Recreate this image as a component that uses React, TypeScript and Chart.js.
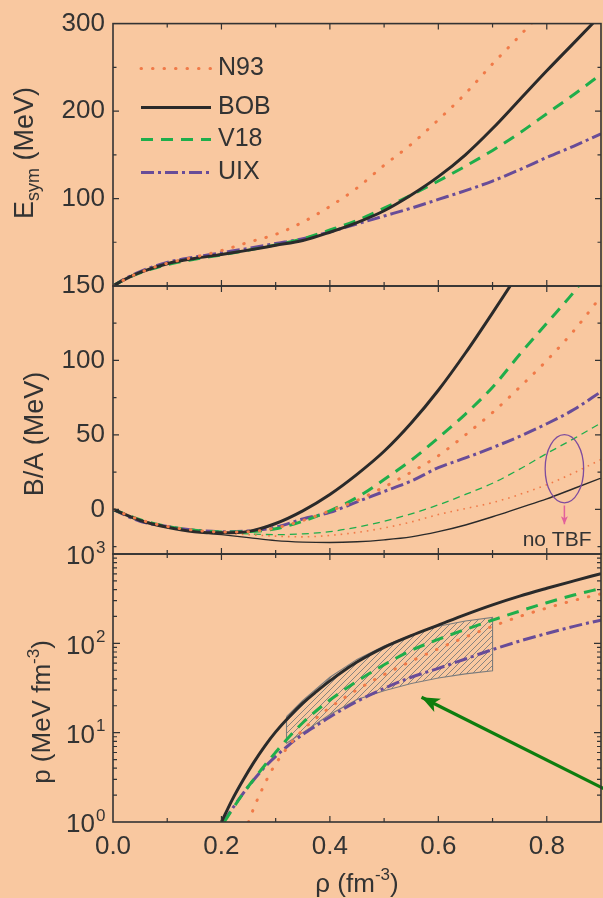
import React, { useEffect, useRef } from 'react';
import { Chart, registerables } from 'chart.js';

Chart.register(...registerables);

const W = 603;
const H = 898;
const BG = '#F9C8A0';
const INK = '#333333';
const FONT = '"Liberation Sans", Arial, Helvetica, sans-serif';

const COL_N93 = '#F07A48';
const COL_BOB = '#2A2A2A';
const COL_V18 = '#1FAE4B';
const COL_UIX = '#684C98';
const COL_HATCH = '#7C7C7C';
const COL_ARROW = '#0E7D0E';
const COL_ELLIPSE = '#7E4C9E';
const COL_PINK = '#E2619B';

const LEFT = 113;
const RIGHT = 601;
const TOPS = [18, 286, 554];
const BOTTOMS = [286, 554, 822];

// ---------- shared axis ----------
const rhoMin = 0;
const rhoMax = 0.9;
const rhoMajorTicks = [0.2, 0.4, 0.6, 0.8];
const rhoMinorTicks = [0.1, 0.3, 0.5, 0.7];

// ---------- panel 1: symmetry energy (MeV) ----------
const esymRho = [0, 0.02, 0.05, 0.1, 0.15, 0.2, 0.25, 0.3, 0.35, 0.4, 0.45, 0.5, 0.55, 0.6, 0.65, 0.7, 0.75, 0.8, 0.85, 0.9];
const esymN93 = [0, 7, 15.5, 26, 33, 40.5, 50, 59, 73, 91, 112, 138, 162, 190, 220, 254, 286, 320];
const esymBOB = [0, 7, 15.5, 25.5, 31.5, 36, 41, 46.5, 52, 61.5, 72.5, 86, 104, 125, 150, 180, 213, 246, 278, 310];
const esymV18 = [0, 7, 15, 24.5, 30.5, 35.5, 41, 47, 54, 64, 75, 89, 104, 120, 137, 155, 175, 197, 219, 242];
const esymUIX = [0, 7.5, 16.5, 27, 33, 38, 43, 48.5, 54, 62, 71, 80, 89, 99, 109, 120, 133, 147, 160, 174];
const esymMajor = [100, 200];
const esymMinor = [50, 150, 250];

// ---------- panel 2: binding energy per nucleon (MeV) ----------
const baRho = [0, 0.05, 0.1, 0.15, 0.2, 0.25, 0.3, 0.35, 0.4, 0.45, 0.5, 0.55, 0.6, 0.65, 0.7, 0.75, 0.8, 0.85, 0.9];
const baN93 = [0, -7, -11.5, -14, -15.2, -15, -12.5, -7.5, -1, 6, 15, 25, 36, 50, 65, 82, 100, 120, 143];
const baBOB = [0, -7.5, -12, -15, -15.8, -14.8, -9.5, -1, 10, 23.5, 39, 58, 80, 105, 132, 160, 190];
const baV18 = [0, -7, -11.5, -14, -15.2, -15, -13, -8, -1, 8, 20, 33, 48, 64, 82, 104, 125, 146, 170];
const baUIX = [0, -8, -11.5, -14, -15, -14.5, -12, -6.5, -2, 5, 12, 19, 28, 34.5, 41.5, 49, 57.5, 67, 79];
// without three-body forces
const baN93noTBF = [0, -7, -11.5, -14, -15.8, -17, -18, -18.5, -17.5, -15.5, -12.5, -8.5, -3.5, 0.5, 4.5, 10, 16.5, 24.5, 33.5];
const baBOBnoTBF = [0, -7.5, -12, -15, -17, -19, -21, -22, -22.3, -21.8, -20.5, -18.5, -15, -10.5, -5, 1, 7, 14, 21];
const baV18noTBF = [0, -7, -11.5, -14, -15.5, -16.5, -17, -16.5, -15, -12, -8, -3, 3, 10, 17.5, 27, 37.5, 47.5, 58];
const baMajor = [0, 50, 100];
const baMinor = [-25, 25, 75, 125];
// annotation (data coordinates)
const noTbfEllipse = { rho: 0.8325, ba: 27.3, rRho: 0.0355, rBa: 22.9 };
const noTbfArrowRho = [0.8325, 0.8325];
const noTbfArrowBa = [2.5, -10];
const noTbfLabel = { text: 'no TBF', rho: 0.819, ba: -24.6 };

// ---------- panel 3: pressure (MeV fm^-3) ----------
const pRhoN93 = [0.25, 0.26, 0.27, 0.28, 0.29, 0.3, 0.325, 0.35, 0.375, 0.4, 0.45, 0.5, 0.55, 0.6, 0.65, 0.7, 0.75, 0.8, 0.85, 0.9];
const pN93 = [1.0, 1.45, 2.0, 2.69, 3.55, 4.47, 7.24, 10.7, 14.6, 19.1, 30.2, 44.7, 63.1, 87.1, 117.5, 155, 200, 248, 302, 359];
const pRhoBOB = [0.2, 0.22, 0.24, 0.26, 0.28, 0.3, 0.325, 0.35, 0.375, 0.4, 0.45, 0.5, 0.55, 0.6, 0.65, 0.7, 0.75, 0.8, 0.85, 0.9];
const pBOB = [1.0, 1.78, 2.95, 4.68, 7.08, 10.2, 15.1, 21.4, 28.8, 38, 61.7, 90.2, 122, 160, 210, 270, 338, 413, 500, 603];
const pRhoV18 = [0.205, 0.22, 0.24, 0.26, 0.28, 0.3, 0.325, 0.35, 0.375, 0.4, 0.45, 0.5, 0.55, 0.6, 0.65, 0.7, 0.75, 0.8, 0.85, 0.9];
const pV18 = [1.0, 1.38, 2.09, 3.02, 4.32, 6.03, 9.02, 12.9, 17.6, 23.2, 37.6, 57.5, 83.2, 111, 143, 182, 229, 285, 347, 412];
const pRhoUIX = [0.203, 0.22, 0.24, 0.26, 0.28, 0.3, 0.325, 0.35, 0.375, 0.4, 0.45, 0.5, 0.55, 0.6, 0.65, 0.7, 0.75, 0.8, 0.85, 0.9];
const pUIX = [1.0, 1.41, 2.09, 2.99, 4.12, 5.43, 7.33, 9.55, 12.0, 15.0, 22.4, 31.3, 41.7, 52.5, 66.8, 85.1, 106, 129, 155, 182];
// constraint band from heavy-ion flow
const bandRho = [0.32, 0.35, 0.4, 0.45, 0.5, 0.55, 0.6, 0.65, 0.7];
const bandUpper = [15.1, 22.9, 41.7, 66.1, 93.3, 124, 155, 178, 195];
const bandLower = [7.6, 10, 16, 23.5, 29.5, 35.5, 41, 45.5, 49.4];
const greenArrowRho = [0.905, 0.569];
const greenArrowP = [2.36, 24.9];
const pDecades = [1, 10, 100, 1000];
const pMajor = [10, 100];
const pMinor = [2, 3, 4, 5, 6, 7, 8, 9, 20, 30, 40, 50, 60, 70, 80, 90, 200, 300, 400, 500, 600, 700, 800, 900];

// ---------- styles ----------
const thick: Record<string, any> = {
  N93: { borderColor: COL_N93, borderWidth: 3, borderDash: [0.5, 11], borderCapStyle: 'round' },
  BOB: { borderColor: COL_BOB, borderWidth: 3, borderDash: [] },
  V18: { borderColor: COL_V18, borderWidth: 3, borderDash: [12, 8] },
  UIX: { borderColor: COL_UIX, borderWidth: 3, borderDash: [13, 4, 3, 4] },
};
const thin: Record<string, any> = {
  N93: { borderColor: COL_N93, borderWidth: 1.6, borderDash: [1.6, 5] },
  BOB: { borderColor: COL_BOB, borderWidth: 1.4, borderDash: [] },
  V18: { borderColor: COL_V18, borderWidth: 1.3, borderDash: [7, 5] },
};

const pts = (xs: number[], ys: number[]) => ys.map((y, i) => ({ x: xs[i], y }));

const line = (xs: number[], ys: number[], style: any, extra: any = {}) => ({
  type: 'line',
  data: pts(xs, ys),
  pointRadius: 0,
  pointHoverRadius: 0,
  fill: false,
  cubicInterpolationMode: 'monotone',
  ...style,
  ...extra,
});

// ---------- drawing helpers ----------
function drawFrame(chart: any, yMajor: number[], yMinor: number[], majLen = 6, minLen = 3.5) {
  const { ctx, chartArea: a, scales } = chart;
  const xs = scales.x;
  const ys = scales.y;
  ctx.save();
  ctx.strokeStyle = INK;
  ctx.lineWidth = 1.2;
  ctx.setLineDash([]);
  ctx.beginPath();
  const xt = (v: number, len: number) => {
    const px = xs.getPixelForValue(v);
    ctx.moveTo(px, a.bottom); ctx.lineTo(px, a.bottom - len);
    ctx.moveTo(px, a.top); ctx.lineTo(px, a.top + len);
  };
  const yt = (v: number, len: number) => {
    const py = ys.getPixelForValue(v);
    ctx.moveTo(a.left, py); ctx.lineTo(a.left + len, py);
    ctx.moveTo(a.right, py); ctx.lineTo(a.right - len, py);
  };
  rhoMajorTicks.forEach((v) => xt(v, 6));
  rhoMinorTicks.forEach((v) => xt(v, 4));
  yMajor.forEach((v) => yt(v, majLen));
  yMinor.forEach((v) => yt(v, minLen));
  ctx.stroke();
  ctx.lineWidth = 1.6;
  ctx.strokeRect(a.left, a.top, a.right - a.left, a.bottom - a.top);
  ctx.restore();
}

type Part = { t: string; size: number; dy: number };
function drawRich(ctx: CanvasRenderingContext2D, parts: Part[], cx: number, baseY: number) {
  let total = 0;
  const widths = parts.map((p) => {
    ctx.font = `${p.size}px ${FONT}`;
    const w = ctx.measureText(p.t).width;
    total += w;
    return w;
  });
  let x = cx - total / 2;
  ctx.textAlign = 'left';
  ctx.textBaseline = 'alphabetic';
  parts.forEach((p, i) => {
    ctx.font = `${p.size}px ${FONT}`;
    ctx.fillText(p.t, x, baseY + p.dy);
    x += widths[i];
  });
}

function drawYTitle(ctx: CanvasRenderingContext2D, parts: Part[], baseX: number, cy: number) {
  ctx.save();
  ctx.fillStyle = INK;
  ctx.translate(baseX, cy);
  ctx.rotate(-Math.PI / 2);
  drawRich(ctx, parts, 0, 0);
  ctx.restore();
}

function drawArrowHeads(chart: any) {
  const { ctx } = chart;
  chart.data.datasets.forEach((ds: any, i: number) => {
    if (!ds.arrowHead) return;
    const el = chart.getDatasetMeta(i).data;
    if (el.length < 2) return;
    const p0 = el[el.length - 2];
    const p1 = el[el.length - 1];
    const ang = Math.atan2(p1.y - p0.y, p1.x - p0.x);
    const { len, half } = ds.arrowHead;
    ctx.save();
    ctx.fillStyle = ds.borderColor;
    ctx.translate(p1.x, p1.y);
    ctx.rotate(ang);
    ctx.beginPath();
    ctx.moveTo(0, 0);
    ctx.lineTo(-len, -half);
    ctx.lineTo(-len * 0.75, 0);
    ctx.lineTo(-len, half);
    ctx.closePath();
    ctx.fill();
    ctx.restore();
  });
}

function makeHatch(): any {
  const c = document.createElement('canvas');
  c.width = 6;
  c.height = 6;
  const g = c.getContext('2d')!;
  g.strokeStyle = COL_HATCH;
  g.lineWidth = 0.9;
  g.beginPath();
  g.moveTo(-1, 7); g.lineTo(7, -1);
  g.moveTo(-1, 1); g.lineTo(1, -1);
  g.moveTo(5, 7); g.lineTo(7, 5);
  g.stroke();
  return g.createPattern(c, 'repeat');
}

const tickFont = { family: FONT, size: 26 };

function baseOptions(panel: number, yScale: any, xScale: any) {
  return {
    animation: false,
    responsive: false,
    devicePixelRatio: 1,
    events: [],
    layout: {
      padding: {
        left: 0,
        right: W - RIGHT,
        top: TOPS[panel],
        bottom: panel === 2 ? 0 : H - BOTTOMS[panel],
      },
    },
    plugins: { legend: { display: false }, tooltip: { enabled: false } },
    scales: { x: xScale, y: yScale },
  };
}

const hiddenX = { type: 'linear', min: rhoMin, max: rhoMax, display: false };

function config1(): any {
  const datasets = [
    line(esymRho, esymN93, thick.N93),
    line(esymRho, esymBOB, thick.BOB),
    line(esymRho, esymV18, thick.V18),
    line(esymRho, esymUIX, thick.UIX),
  ];
  const y = {
    type: 'linear', min: 0, max: 300,
    grid: { display: false, drawTicks: false }, border: { display: false },
    ticks: { stepSize: 100, includeBounds: false, padding: 8, color: INK, font: tickFont, callback: (v: any) => (v === 0 ? '' : String(v)) },
    afterFit: (s: any) => { s.width = LEFT; },
  };
  const plugin = {
    id: 'panel1Decor',
    afterDatasetsDraw(chart: any) {
      const { ctx, chartArea: a } = chart;
      drawFrame(chart, esymMajor, esymMinor);
      const rows = [
        { name: 'N93', st: thick.N93, dy: 45 },
        { name: 'BOB', st: thick.BOB, dy: 84 },
        { name: 'V18', st: thick.V18, dy: 116 },
        { name: 'UIX', st: thick.UIX, dy: 149 },
      ];
      ctx.save();
      rows.forEach((r) => {
        const yy = a.top + r.dy;
        ctx.strokeStyle = r.st.borderColor;
        ctx.lineWidth = r.st.borderWidth;
        ctx.setLineDash(r.st.borderDash);
        ctx.lineCap = r.st.borderCapStyle || 'butt';
        ctx.beginPath();
        ctx.moveTo(a.left + 28, yy);
        ctx.lineTo(a.left + 98, yy);
        ctx.stroke();
        ctx.fillStyle = INK;
        ctx.font = `25px ${FONT}`;
        ctx.textAlign = 'left';
        ctx.textBaseline = 'middle';
        ctx.fillText(r.name, a.left + 105, yy);
      });
      ctx.restore();
      drawYTitle(ctx, [
        { t: 'E', size: 27, dy: 0 },
        { t: 'sym', size: 18, dy: 6 },
        { t: ' (MeV)', size: 27, dy: 0 },
      ], 33, 153);
    },
  };
  return { type: 'line', data: { datasets }, options: baseOptions(0, y, hiddenX), plugins: [plugin] };
}

function config2(): any {
  const datasets = [
    line(baRho, baN93, thick.N93),
    line(baRho, baBOB, thick.BOB),
    line(baRho, baV18, thick.V18),
    line(baRho, baUIX, thick.UIX),
    line(baRho, baN93noTBF, thin.N93),
    line(baRho, baBOBnoTBF, thin.BOB),
    line(baRho, baV18noTBF, thin.V18),
    line(noTbfArrowRho, noTbfArrowBa, { borderColor: COL_PINK, borderWidth: 1.5, borderDash: [] }, { tension: 0, cubicInterpolationMode: 'default', arrowHead: { len: 8, half: 3.5 } }),
  ];
  const y = {
    type: 'linear', min: -30, max: 150,
    grid: { display: false, drawTicks: false }, border: { display: false },
    ticks: { stepSize: 50, includeBounds: false, padding: 8, color: INK, font: tickFont },
    afterFit: (s: any) => { s.width = LEFT; },
  };
  const plugin = {
    id: 'panel2Decor',
    afterDatasetsDraw(chart: any) {
      const { ctx, scales } = chart;
      drawArrowHeads(chart);
      const xs = scales.x;
      const ys = scales.y;
      const cx = xs.getPixelForValue(noTbfEllipse.rho);
      const cy = ys.getPixelForValue(noTbfEllipse.ba);
      const rx = Math.abs(xs.getPixelForValue(noTbfEllipse.rho + noTbfEllipse.rRho) - cx);
      const ry = Math.abs(ys.getPixelForValue(noTbfEllipse.ba + noTbfEllipse.rBa) - cy);
      ctx.save();
      ctx.strokeStyle = COL_ELLIPSE;
      ctx.lineWidth = 1.3;
      ctx.setLineDash([]);
      ctx.beginPath();
      ctx.ellipse(cx, cy, rx, ry, 0, 0, Math.PI * 2);
      ctx.stroke();
      ctx.fillStyle = INK;
      ctx.font = `21px ${FONT}`;
      ctx.textAlign = 'center';
      ctx.textBaseline = 'alphabetic';
      ctx.fillText(noTbfLabel.text, xs.getPixelForValue(noTbfLabel.rho), ys.getPixelForValue(noTbfLabel.ba));
      ctx.restore();
      drawFrame(chart, baMajor, baMinor);
      drawYTitle(ctx, [{ t: 'B/A (MeV)', size: 27, dy: 0 }], 43, 434);
    },
  };
  return { type: 'line', data: { datasets }, options: baseOptions(1, y, hiddenX), plugins: [plugin] };
}

function config3(hatch: any): any {
  const bandPts = [
    ...pts(bandRho, bandUpper),
    ...pts(bandRho, bandLower).reverse(),
    { x: bandRho[0], y: bandUpper[0] },
  ];
  const datasets = [
    line(pRhoN93, pN93, thick.N93),
    line(pRhoBOB, pBOB, thick.BOB),
    line(pRhoV18, pV18, thick.V18),
    line(pRhoUIX, pUIX, thick.UIX),
    line(greenArrowRho, greenArrowP, { borderColor: COL_ARROW, borderWidth: 3.2, borderDash: [] }, { tension: 0, cubicInterpolationMode: 'default', clip: 4, arrowHead: { len: 18, half: 7.5 } }),
    {
      type: 'line',
      data: bandPts,
      pointRadius: 0,
      tension: 0,
      borderColor: COL_HATCH,
      borderWidth: 1.1,
      backgroundColor: hatch,
      fill: 'shape',
    },
  ];
  const x = {
    type: 'linear', min: rhoMin, max: rhoMax,
    grid: { display: false, drawTicks: false }, border: { display: false },
    ticks: { stepSize: 0.2, includeBounds: false, padding: 9, color: INK, font: tickFont, maxRotation: 0, autoSkip: false, callback: (v: any) => Number(v).toFixed(1) },
    afterFit: (s: any) => { s.height = H - BOTTOMS[2]; },
  };
  const y = {
    type: 'logarithmic', min: 1, max: 1000,
    grid: { display: false, drawTicks: false }, border: { display: false },
    ticks: { display: false },
    afterFit: (s: any) => { s.width = LEFT; },
  };
  const plugin = {
    id: 'panel3Decor',
    afterDatasetsDraw(chart: any) {
      const { ctx, scales } = chart;
      drawArrowHeads(chart);
      drawFrame(chart, pMajor, pMinor, 7, 4);
      ctx.save();
      ctx.fillStyle = INK;
      pDecades.forEach((v) => {
        const py = scales.y.getPixelForValue(v);
        ctx.font = `26px ${FONT}`;
        ctx.textAlign = 'right';
        ctx.textBaseline = 'middle';
        ctx.fillText('10', 95, py + 3);
        ctx.font = `17px ${FONT}`;
        ctx.textAlign = 'left';
        ctx.fillText(String(Math.round(Math.log10(v))), 96, py - 6);
      });
      ctx.restore();
      drawYTitle(ctx, [
        { t: 'p (MeV fm', size: 26, dy: 0 },
        { t: '-3', size: 17, dy: -11 },
        { t: ')', size: 26, dy: 0 },
      ], 50, 712);
      ctx.save();
      ctx.fillStyle = INK;
      drawRich(ctx, [
        { t: 'ρ (fm', size: 26, dy: 0 },
        { t: '-3', size: 17, dy: -12 },
        { t: ')', size: 26, dy: 0 },
      ], (chart.chartArea.left + chart.chartArea.right) / 2, 892);
      ctx.restore();
    },
  };
  return { type: 'line', data: { datasets }, options: baseOptions(2, y, x), plugins: [plugin] };
}

export default function App() {
  const r1 = useRef<HTMLCanvasElement>(null);
  const r2 = useRef<HTMLCanvasElement>(null);
  const r3 = useRef<HTMLCanvasElement>(null);

  useEffect(() => {
    document.body.style.background = BG;
    const charts = [
      new Chart(r1.current!, config1()),
      new Chart(r2.current!, config2()),
      new Chart(r3.current!, config3(makeHatch())),
    ];
    return () => charts.forEach((c) => c.destroy());
  }, []);

  const cs: React.CSSProperties = { position: 'absolute', left: 0, top: 0, width: W, height: H };
  return (
    <div style={{ position: 'absolute', left: 0, top: 0, width: W, height: H, background: BG, overflow: 'hidden' }}>
      <canvas ref={r1} width={W} height={H} style={cs} />
      <canvas ref={r2} width={W} height={H} style={cs} />
      <canvas ref={r3} width={W} height={H} style={cs} />
    </div>
  );
}
